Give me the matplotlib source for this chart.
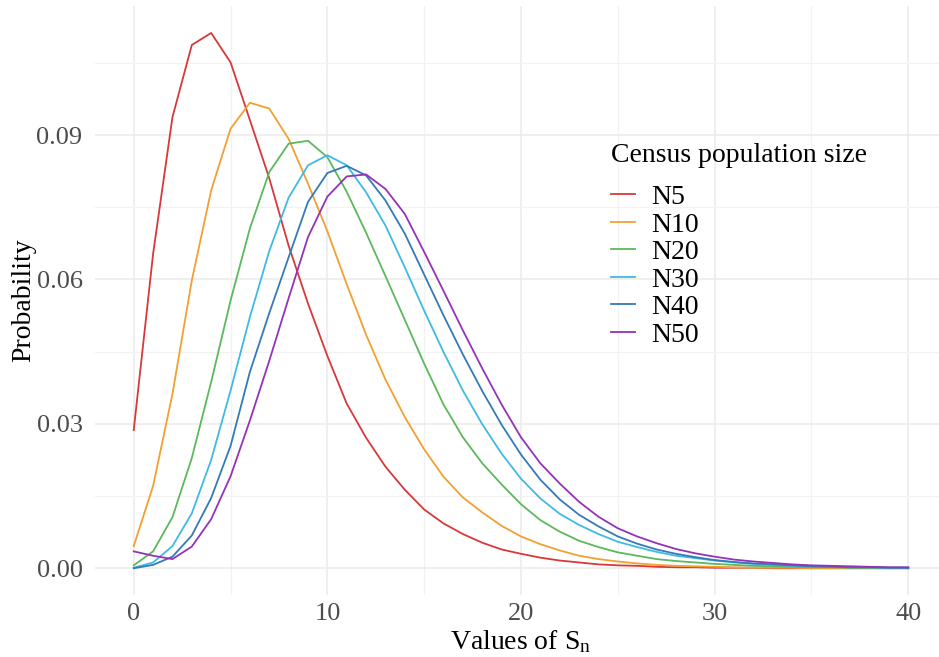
import matplotlib
matplotlib.use("Agg")
import matplotlib.pyplot as plt
import numpy as np

# values of S_n
sn = np.arange(0, 41)

n5 = [0.0287, 0.0653, 0.0937, 0.1087, 0.1112, 0.1051, 0.0931, 0.0810, 0.0670, 0.0550,
      0.0441, 0.0342, 0.0271, 0.0211, 0.0163, 0.0122, 0.0093, 0.0071, 0.0053, 0.0039,
      0.0030, 0.0022, 0.0016, 0.0012, 0.0008, 0.0006, 0.0005, 0.0003, 0.0002, 0.0002,
      0.0001, 0.0001, 0.0001, 0.0, 0.0, 0.0, 0.0, 0.0, 0.0, 0.0, 0.0]
n10 = [0.0046, 0.0171, 0.0362, 0.0598, 0.0785, 0.0913, 0.0967, 0.0955, 0.0892, 0.0799,
       0.0700, 0.0590, 0.0485, 0.0392, 0.0314, 0.0247, 0.0190, 0.0147, 0.0116, 0.0088,
       0.0066, 0.0050, 0.0037, 0.0026, 0.0019, 0.0014, 0.0010, 0.0007, 0.0005, 0.0004,
       0.0003, 0.0002, 0.0001, 0.0001, 0.0001, 0.0, 0.0, 0.0, 0.0, 0.0, 0.0]
n20 = [0.0006, 0.0035, 0.0106, 0.0229, 0.0387, 0.0556, 0.0706, 0.0823, 0.0882, 0.0888,
       0.0854, 0.0782, 0.0697, 0.0607, 0.0516, 0.0425, 0.0340, 0.0272, 0.0218, 0.0174,
       0.0133, 0.0100, 0.0076, 0.0057, 0.0044, 0.0033, 0.0026, 0.0019, 0.0015, 0.0012,
       0.0009, 0.0007, 0.0005, 0.0004, 0.0003, 0.0002, 0.0002, 0.0001, 0.0001, 0.0001, 0.0]
n30 = [0.0001, 0.0012, 0.0046, 0.0114, 0.0225, 0.0369, 0.0522, 0.0659, 0.0770, 0.0837,
       0.0858, 0.0837, 0.0781, 0.0712, 0.0625, 0.0535, 0.0449, 0.0369, 0.0299, 0.0238,
       0.0186, 0.0145, 0.0113, 0.0090, 0.0071, 0.0055, 0.0044, 0.0034, 0.0026, 0.0021,
       0.0016, 0.0012, 0.0009, 0.0007, 0.0005, 0.0004, 0.0003, 0.0002, 0.0002, 0.0001, 0.0001]
n40 = [0.0000, 0.0007, 0.0024, 0.0068, 0.0146, 0.0254, 0.0408, 0.0530, 0.0646, 0.0761,
       0.0821, 0.0836, 0.0816, 0.0764, 0.0695, 0.0610, 0.0525, 0.0444, 0.0368, 0.0298,
       0.0236, 0.0184, 0.0143, 0.0111, 0.0087, 0.0066, 0.0051, 0.0039, 0.0030, 0.0023,
       0.0017, 0.0013, 0.0010, 0.0008, 0.0006, 0.0004, 0.0003, 0.0002, 0.0002, 0.0001, 0.0001]
n50 = [0.0035, 0.0026, 0.0019, 0.0045, 0.0102, 0.0191, 0.0307, 0.0431, 0.0561, 0.0688,
       0.0772, 0.0814, 0.0818, 0.0788, 0.0736, 0.0657, 0.0576, 0.0494, 0.0415, 0.0340,
       0.0272, 0.0218, 0.0176, 0.0138, 0.0107, 0.0083, 0.0066, 0.0052, 0.0040, 0.0031,
       0.0024, 0.0018, 0.0014, 0.0011, 0.0008, 0.0006, 0.0005, 0.0004, 0.0003, 0.0002, 0.0002]

labels = ["N5", "N10", "N20", "N30", "N40", "N50"]
series = [n5, n10, n20, n30, n40, n50]
colors = ["#D8383A", "#F2A030", "#5CB85C", "#3FBAE3", "#337AB7", "#9432B8"]

plt.rcParams['font.family'] = ['Liberation Serif', 'DejaVu Serif']
plt.rcParams['mathtext.fontset'] = 'custom'
plt.rcParams['mathtext.rm'] = 'Liberation Serif'

fig = plt.figure(figsize=(9.39, 6.57), dpi=100)
# panel runs past the right edge a little, as in the source
ax = fig.add_axes([95 / 939, 62 / 657, (947 - 95) / 939, 589 / 657])

for ys, lab, col in zip(series, labels, colors):
    ax.plot(sn, ys, color=col, lw=1.3, label=lab)

ax.set_xlim(-2, 42)
ax.set_ylim(-0.00556, 0.1168)
ax.set_xticks([0, 10, 20, 30, 40])
ax.set_xticks([5, 15, 25, 35], minor=True)
ax.set_yticks([0, 0.03, 0.06, 0.09])
ax.set_yticks([0.015, 0.045, 0.075, 0.105], minor=True)
ax.set_yticklabels(["0.00", "0.03", "0.06", "0.09"])
ax.grid(which='major', color='#EBEBEB', lw=1.1)
ax.grid(which='minor', color='#F2F2F2', lw=0.9)
ax.set_axisbelow(True)
for s in ax.spines.values():
    s.set_visible(False)
ax.tick_params(which='both', length=0)
ax.tick_params(axis='x', labelsize=19, labelcolor='#4D4D4D', pad=6)
ax.tick_params(axis='y', labelsize=19, labelcolor='#4D4D4D', pad=9)

ax.set_xlabel(r"Values of $\mathregular{S_n}$", fontsize=20, labelpad=2)
ax.set_ylabel("Probability", fontsize=20, labelpad=0)

leg = ax.legend(title="Census population size", loc='upper left',
                bbox_to_anchor=(597 / 939, 1 - 129 / 657), bbox_transform=fig.transFigure,
                frameon=False, fontsize=20, title_fontsize=20, alignment='left',
                handlelength=0.85, handletextpad=0.6, labelspacing=0.075, borderpad=0.0)
# extra room between the legend title and the keys
leg._legend_box.sep = 12

fig.savefig("out.png", dpi=100)
